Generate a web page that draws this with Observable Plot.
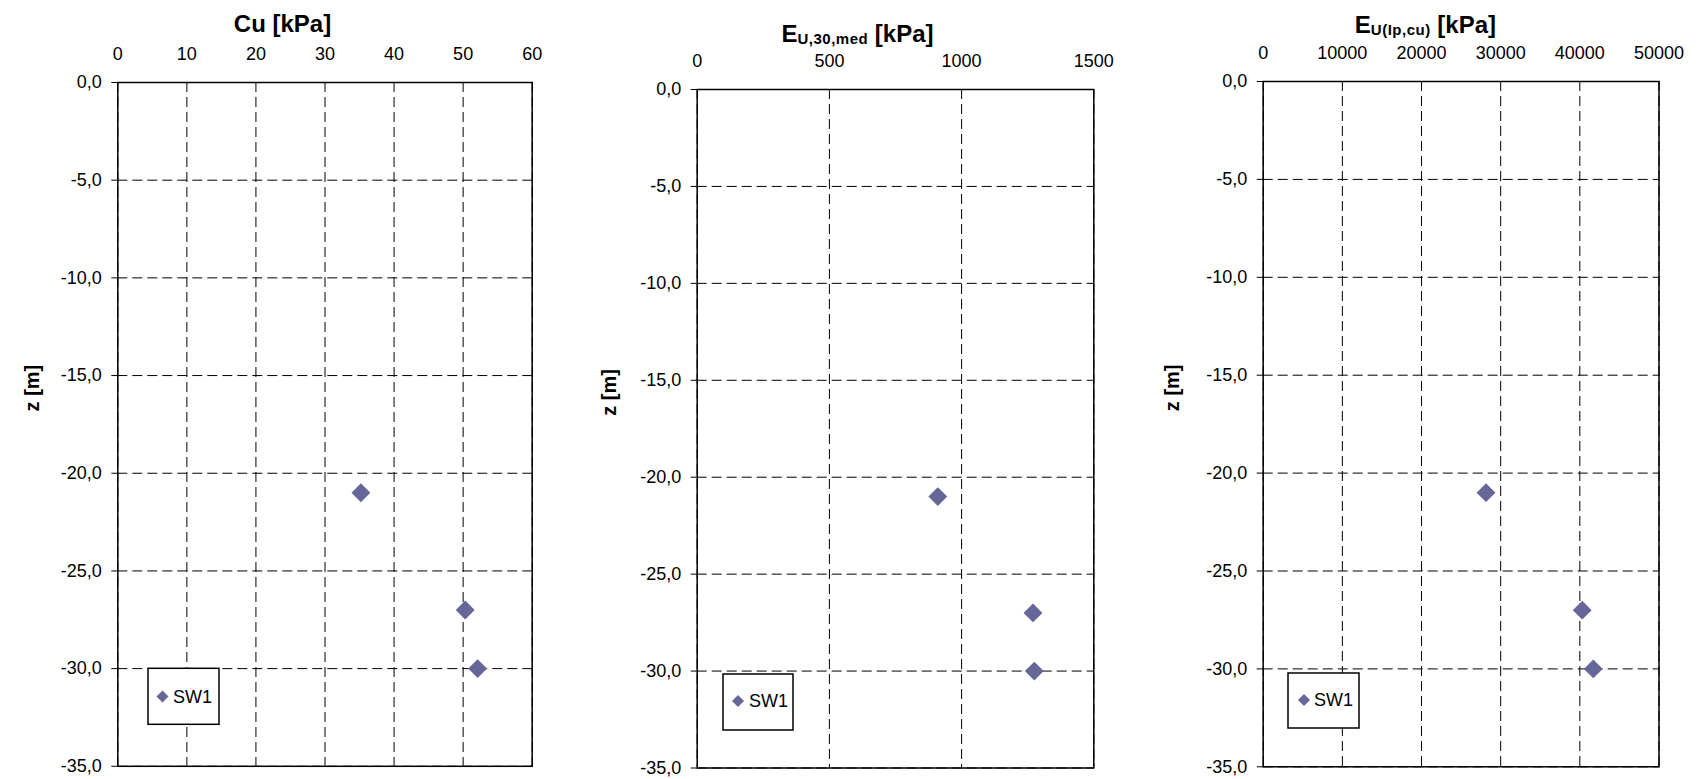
<!DOCTYPE html>
<html>
<head>
<meta charset="utf-8">
<script src="https://cdn.jsdelivr.net/npm/d3@7"></script>
<script src="https://cdn.jsdelivr.net/npm/@observablehq/plot@0.6"></script>
<style>
  html, body { margin: 0; padding: 0; background: #fff; }
  #page { position: relative; width: 1697px; height: 779px; overflow: hidden;
          font-family: "Liberation Sans", Arial, sans-serif; }
  #page svg { position: absolute; top: 0; overflow: visible; }
</style>
</head>
<body>
<div id="page"></div>
<script>
// Sample depths (m) and the undrained parameters measured at each (borehole SW1)
const depth = [-21, -27, -30];
const cu = [35.2, 50.3, 52.1];          // Cu [kPa]
const eu30med = [910, 1270, 1275];      // E_U,30,med [kPa]
const euIpCu = [28150, 40300, 41700];   // E_U(Ip,cu) [kPa]
const seriesName = "SW1";

// Axis ticks
const depthTicks = [0, -5, -10, -15, -20, -25, -30, -35];
const cuTicks = [0, 10, 20, 30, 40, 50, 60];
const eu30Ticks = [0, 500, 1000, 1500];
const euIpTicks = [0, 10000, 20000, 30000, 40000, 50000];

const FONT = "'Liberation Sans', Arial, sans-serif";
const MARKER = "#666699";
const H = 779;

const panels = [
  {
    values: cu, ticks: cuTicks, domain: [0, 60],
    left: 0, width: 560, mTop: 82, mBottom: 13.2, mLeft: 117.3, mRight: 28.3,
    title: {main: "Cu", sub: null, unit: "[kPa]", cx: 282.5, baseline: 32},
    zdx: -84.8,
    legend: {x: 148, y: 668.3, w: 71, h: 56, mx: 162.5, my: 696.5, tx: 173, ty: 702.5}
  },
  {
    values: eu30med, ticks: eu30Ticks, domain: [0, 1500],
    left: 560, width: 560, mTop: 89, mBottom: 11.5, mLeft: 136.7, mRight: 26.7,
    title: {main: "E", sub: "U,30,med", unit: "[kPa]", cx: 297.5, baseline: 42},
    zdx: -87.7,
    legend: {x: 163, y: 674, w: 70, h: 56, mx: 178, my: 701, tx: 189, ty: 707}
  },
  {
    values: euIpCu, ticks: euIpTicks, domain: [0, 50000],
    left: 1120, width: 577, mTop: 81, mBottom: 12.7, mLeft: 142.7, mRight: 38.5,
    title: {main: "E", sub: "U(Ip,cu)", unit: "[kPa]", cx: 305.4, baseline: 33},
    zdx: -90.7,
    legend: {x: 168, y: 673, w: 71, h: 55, mx: 184, my: 700, tx: 194, ty: 706}
  }
];

const depthFormat = d => d.toFixed(1).replace(".", ",");
const page = document.getElementById("page");

for (const p of panels) {
  const rows = depth.map((z, i) => ({z, v: p.values[i]}));

  const svg = Plot.plot({
    width: p.width,
    height: H,
    marginTop: p.mTop,
    marginBottom: p.mBottom,
    marginLeft: p.mLeft,
    marginRight: p.mRight,
    style: {fontFamily: FONT, fontSize: "18px", color: "black", background: "transparent"},
    x: {domain: p.domain},
    y: {domain: [-35, 0]},
    marks: [
      Plot.gridX(p.ticks, {stroke: "black", strokeOpacity: 1, strokeWidth: 1, strokeDasharray: "10,5"}),
      Plot.gridY(depthTicks, {stroke: "black", strokeOpacity: 1, strokeWidth: 1, strokeDasharray: "10,5"}),
      Plot.axisX(p.ticks, {anchor: "top", tickSize: 0, tickPadding: 23, label: null, tickFormat: d => String(d)}),
      Plot.axisY(depthTicks, {anchor: "left", tickSize: 6, tickPadding: 10, label: null, tickFormat: depthFormat}),
      Plot.frame({stroke: "black", strokeWidth: 1.5}),
      Plot.dot(rows, {x: "v", y: "z", symbol: "diamond2", r: 8.5, fill: MARKER, stroke: "none"}),
      Plot.text(["z [m]"], {frameAnchor: "left", text: d => d, rotate: -90, dx: p.zdx, dy: -13,
                            fontWeight: "bold", fontSize: 20})
    ]
  });
  svg.style.left = p.left + "px";
  page.appendChild(svg);

  const s = d3.select(svg);

  // Panel title (with optional subscript)
  const t = p.title;
  const title = s.append("text")
    .attr("x", t.cx).attr("y", t.baseline)
    .attr("text-anchor", "middle")
    .attr("font-family", FONT).attr("font-weight", "bold").attr("font-size", 24)
    .attr("fill", "black");
  title.append("tspan").text(t.main);
  if (t.sub) {
    title.append("tspan").attr("font-size", 15).attr("dy", 2).attr("letter-spacing", 0.5).text(t.sub);
    title.append("tspan").attr("dy", -2).text("\u00a0" + t.unit);
  } else {
    title.append("tspan").text(" " + t.unit);
  }

  // Legend box
  const L = p.legend;
  const g = s.append("g");
  g.append("rect")
    .attr("x", L.x).attr("y", L.y).attr("width", L.w).attr("height", L.h)
    .attr("fill", "white").attr("stroke", "black").attr("stroke-width", 1.5);
  g.append("path")
    .attr("transform", `translate(${L.mx},${L.my})`)
    .attr("d", d3.symbol(d3.symbolDiamond2, 92)())
    .attr("fill", MARKER);
  g.append("text")
    .attr("x", L.tx).attr("y", L.ty)
    .attr("text-anchor", "start")
    .attr("font-family", FONT).attr("font-size", 18).attr("fill", "black")
    .text(seriesName);
}
</script>
</body>
</html>
